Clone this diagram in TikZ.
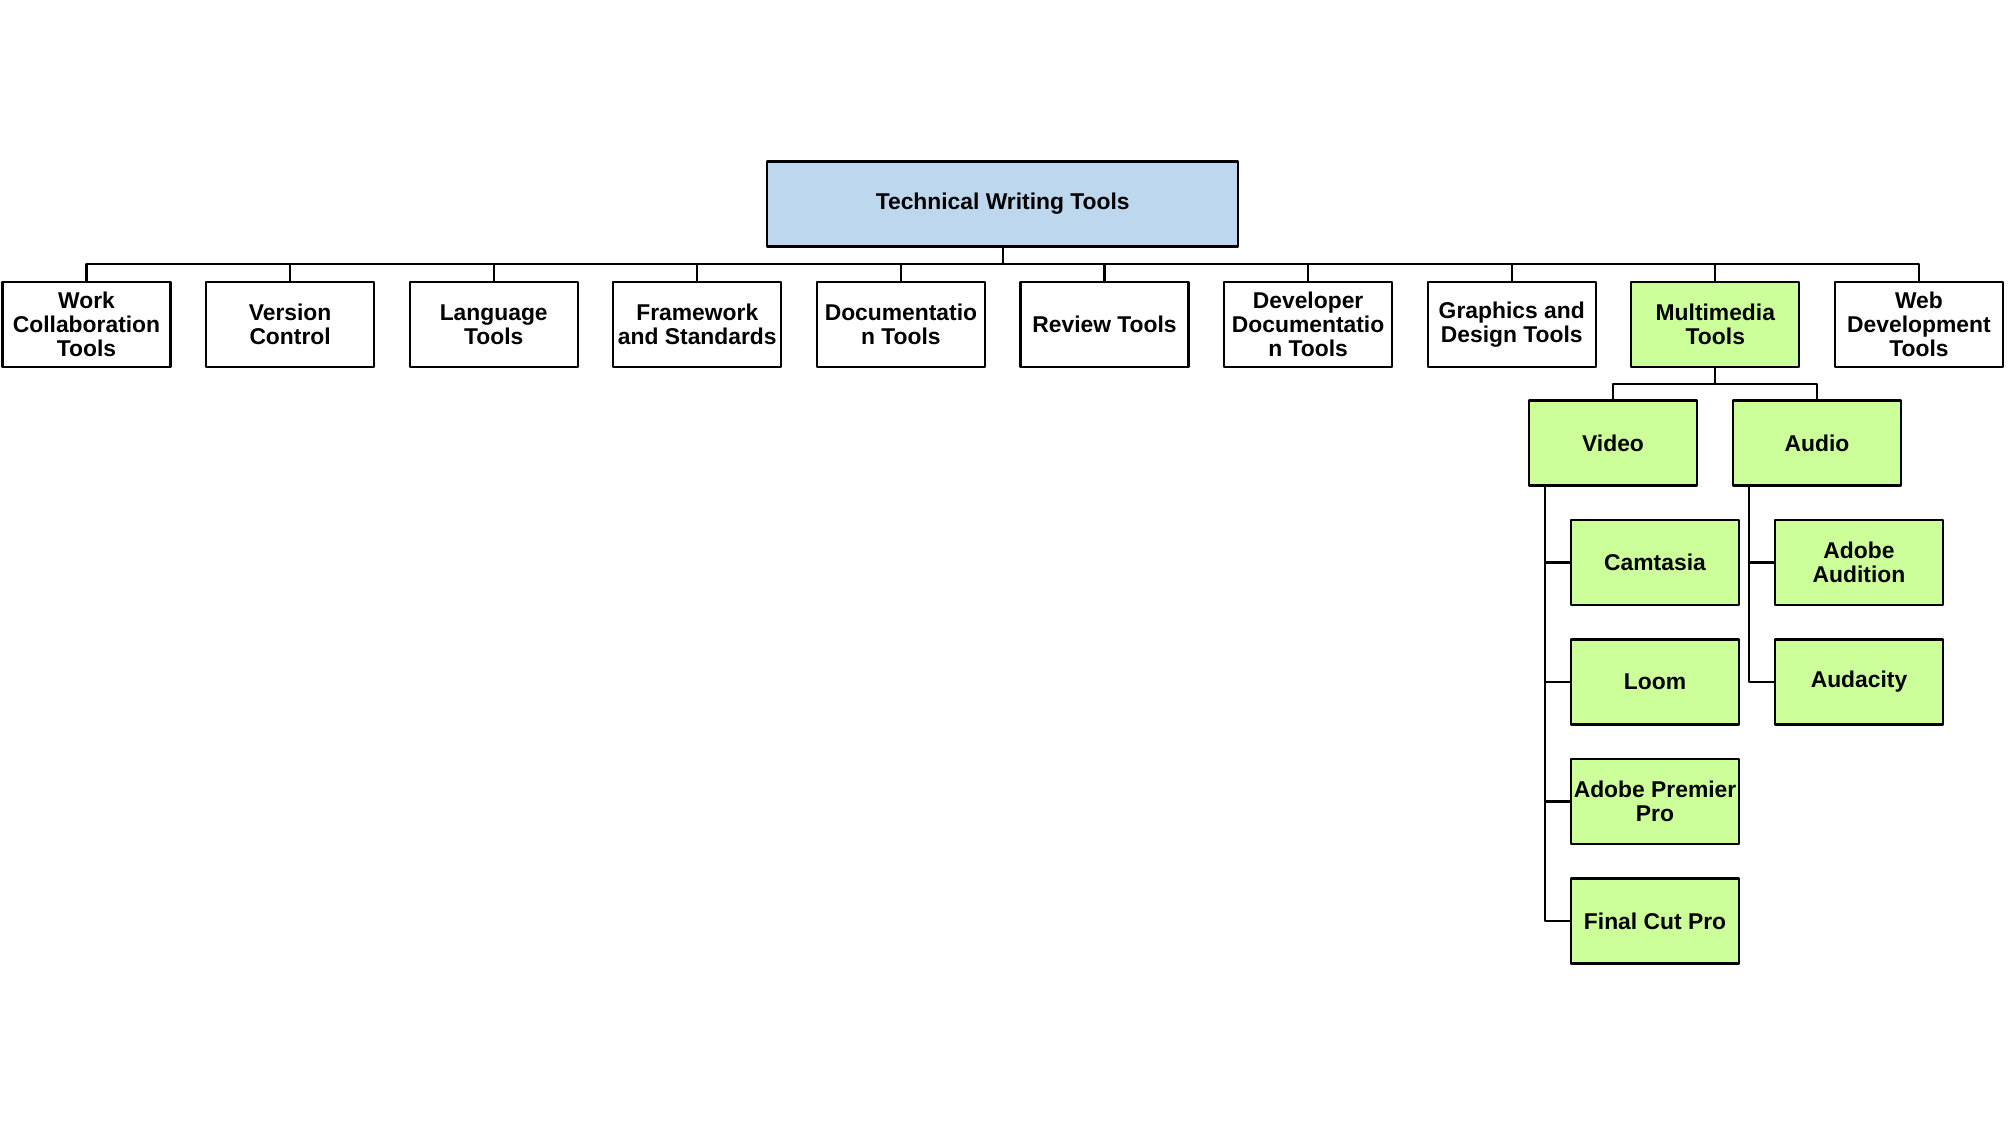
\documentclass[tikz,border=0pt]{standalone}
\usepackage{fontspec}
\setmainfont{Liberation Sans}
\definecolor{rootblue}{HTML}{BDD7EE}
\definecolor{mmgreen}{HTML}{CCFF99}
\begin{document}
\begin{tikzpicture}[line join=round,font=\fontsize{6.5}{6.8}\selectfont\bfseries,
        box/.style={draw,line width=0.6pt,minimum width=1.68cm,minimum height=0.85cm,inner sep=0.5pt,align=center},
        hi/.style={box,fill=mmgreen},
        link/.style={line width=0.6pt}]
    \useasboundingbox (0,0) rectangle (20.1,11.25);
    \node[box,fill=rootblue,minimum width=4.71cm] (root) at (10.027,9.21) {Technical Writing Tools};
    % first level
    \foreach \i/\s/\t in {0/box/{Work\\Collaboration\\Tools},1/box/{Version\\Control},2/box/{Language\\Tools},
            3/box/{Framework\\and Standards},4/box/{Documentatio\\n Tools},5/box/{Review Tools},
            6/box/{Developer\\Documentatio\\n Tools},7/box/{Graphics and\\Design Tools},8/hi/{Multimedia\\Tools},
            9/box/{Web\\Development\\Tools}}
    {
        \node[\s] (t\i) at (0.865+2.036*\i,8.005) {\t};
        \draw[link] (root.south) -- ++(0,-0.165) -| (t\i.north);
    }
    % multimedia
    \node[hi] (video) at (16.13,6.82) {Video};
    \node[hi] (audio) at (18.17,6.82) {Audio};
    \foreach \n in {video,audio}
        \draw[link] (t8.south) -- ++(0,-0.16) -| (\n.north);
    \foreach \i/\t in {1/Camtasia,2/Loom,3/{Adobe Premier\\Pro},4/Final Cut Pro}
    {
        \node[hi] (v\i) at (16.55,6.82-1.195*\i) {\t};
        \draw[link] ([xshift=0.17cm]video.south west) |- (v\i.west);
    }
    \foreach \i/\t in {1/{Adobe\\Audition},2/Audacity}
    {
        \node[hi] (a\i) at (18.59,6.82-1.195*\i) {\t};
        \draw[link] ([xshift=0.17cm]audio.south west) |- (a\i.west);
    }
\end{tikzpicture}
\end{document}
